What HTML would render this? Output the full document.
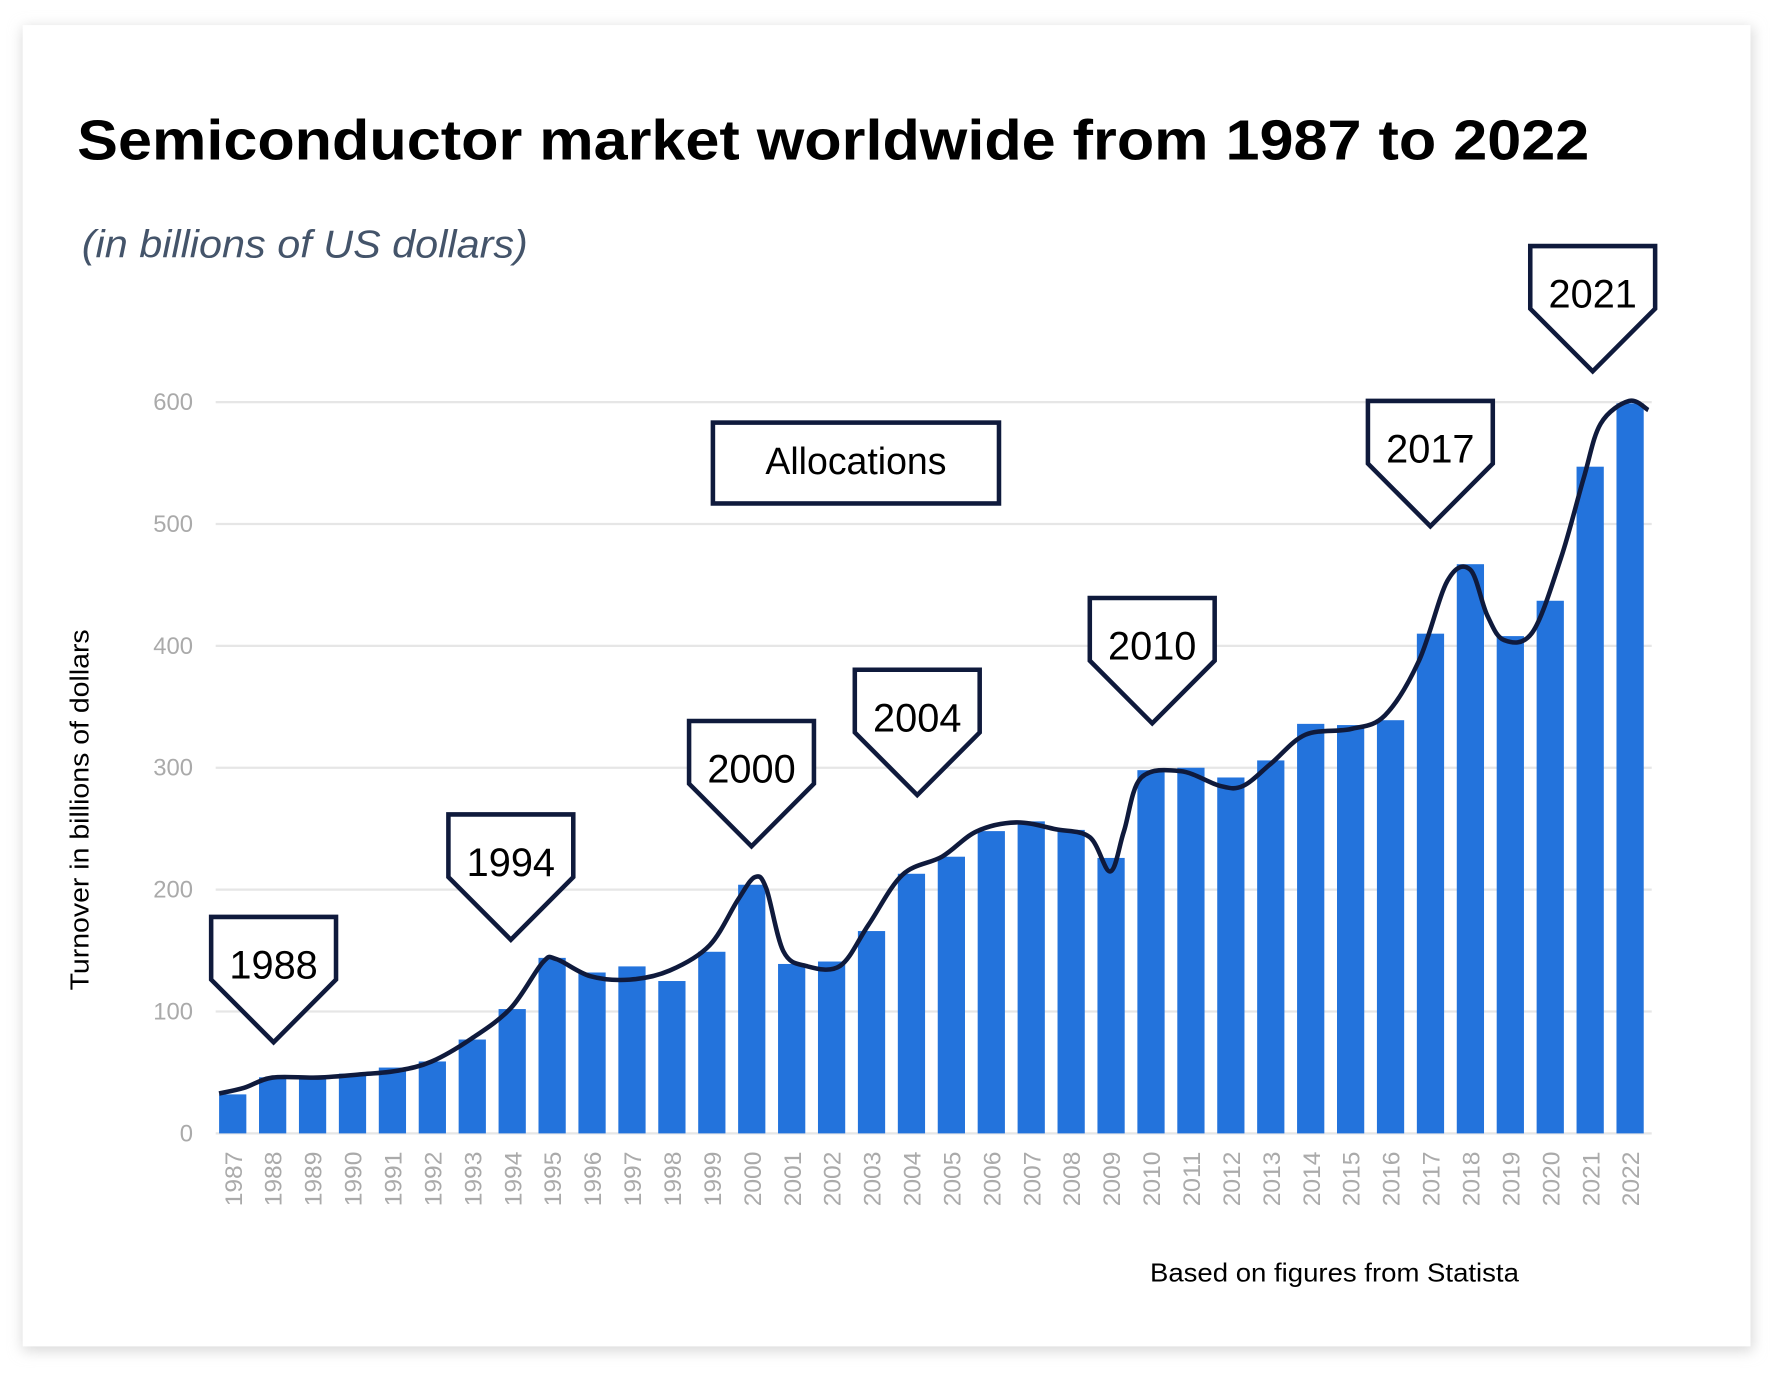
<!DOCTYPE html>
<html><head><meta charset="utf-8"><style>
html,body{margin:0;padding:0;background:#fff;}
svg{display:block;}
</style></head><body>
<svg id="s" width="1780" height="1376" viewBox="0 0 1568 1208" preserveAspectRatio="none" xmlns="http://www.w3.org/2000/svg" font-family="Liberation Sans, sans-serif">
<defs><filter id="sh" x="-5%" y="-5%" width="110%" height="110%"><feGaussianBlur stdDeviation="6"/></filter></defs>
<rect x="20" y="24" width="1524" height="1162" fill="#d8d8d8" filter="url(#sh)"/>
<rect x="20" y="22" width="1522" height="1160" fill="#fff"/>
<text x="68" y="140" font-size="50" font-weight="bold" fill="#000" textLength="1332" lengthAdjust="spacingAndGlyphs">Semiconductor market worldwide from 1987 to 2022</text>
<text x="72" y="226" font-size="34" font-style="italic" fill="#44546a" textLength="393" lengthAdjust="spacingAndGlyphs">(in billions of US dollars)</text>
<g id="grid" stroke="#e6e6e6" stroke-width="2"></g>
<g id="ylab" font-size="21" fill="#aaa" text-anchor="end"></g>
<g id="bars" fill="#2373dc"></g>
<g id="xlab" font-size="21" fill="#aaa"></g>
<path id="curve" fill="none" stroke="#0f1a3c" stroke-width="4"/>
<g id="callouts" fill="#fff" stroke="#0f1a3c" stroke-width="4"></g>
<g id="ctext" font-size="35" fill="#000" text-anchor="middle"></g>
<rect x="628" y="371" width="252" height="71" fill="#fff" stroke="#0f1a3c" stroke-width="4"/>
<text x="754" y="416" font-size="33" text-anchor="middle" fill="#000">Allocations</text>
<text transform="translate(78,711) rotate(-90)" font-size="23" text-anchor="middle" fill="#000" textLength="317" lengthAdjust="spacingAndGlyphs">Turnover in billions of dollars</text>
<text x="1013" y="1125" font-size="23" fill="#000" textLength="325" lengthAdjust="spacingAndGlyphs">Based on figures from Statista</text>
</svg>
<script>
var NS="http://www.w3.org/2000/svg";
function el(p,t,a,txt){var e=document.createElementNS(NS,t);for(var k in a)e.setAttribute(k,a[k]);if(txt!==undefined)e.textContent=txt;document.getElementById(p).appendChild(e);return e;}
var y0=995,k=1.07;
for(var v=0;v<=600;v+=100){var y=y0-v*k;el("grid","line",{x1:190,x2:1455,y1:y,y2:y});el("ylab","text",{x:170,y:y+7},v);}
var vals=[32,46,45,49,54,59,77,102,144,132,137,125,149,204,139,141,166,213,227,248,256,249,226,298,300,292,306,336,335,339,410,467,408,437,547,599];
for(var i=0;i<vals.length;i++){var cx=205+i*35.17;el("bars","rect",{x:cx-12,y:y0-vals[i]*k,width:24,height:vals[i]*k});
el("xlab","text",{transform:"translate("+(cx+8)+",1059) rotate(-90)",textLength:48,lengthAdjust:"spacingAndGlyphs"},1987+i);}
var P=[[193,960],[215,955],[240,946],[280,946],[320,943],[350,940],[380,932],[415,912],[450,885],[478,845],[490,842],[520,857],[555,860],[590,852],[625,830],[650,790],[665,770],[675,780],[690,835],[710,848],[740,848],[765,812],[795,768],[830,752],[860,730],[895,722],[930,728],[960,735],[978,765],[990,730],[1005,683],[1040,677],[1075,690],[1095,690],[1120,670],[1150,645],[1190,640],[1220,628],[1250,580],[1275,510],[1295,500],[1310,540],[1325,562],[1350,555],[1375,490],[1395,420],[1410,372],[1435,352],[1452,360]];
var d="M"+P[0][0]+","+P[0][1];
for(var i=0;i<P.length-1;i++){var p0=P[Math.max(0,i-1)],p1=P[i],p2=P[i+1],p3=P[Math.min(P.length-1,i+2)];
d+=" C"+(p1[0]+(p2[0]-p0[0])/6)+","+(p1[1]+(p2[1]-p0[1])/6)+" "+(p2[0]-(p3[0]-p1[0])/6)+","+(p2[1]-(p3[1]-p1[1])/6)+" "+p2[0]+","+p2[1];}
document.getElementById("curve").setAttribute("d",d);
var C=[[186,805,"1988"],[395,715,"1994"],[607,633,"2000"],[753,588,"2004"],[960,525,"2010"],[1205,352,"2017"],[1348,216,"2021"]];
C.forEach(function(c){var x=c[0],t=c[1];el("callouts","path",{d:"M"+x+","+t+" L"+(x+110)+","+t+" L"+(x+110)+","+(t+55)+" L"+(x+55)+","+(t+110)+" L"+x+","+(t+55)+" Z"});
el("ctext","text",{x:x+55,y:t+54},c[2]);});
</script>
</body></html>
